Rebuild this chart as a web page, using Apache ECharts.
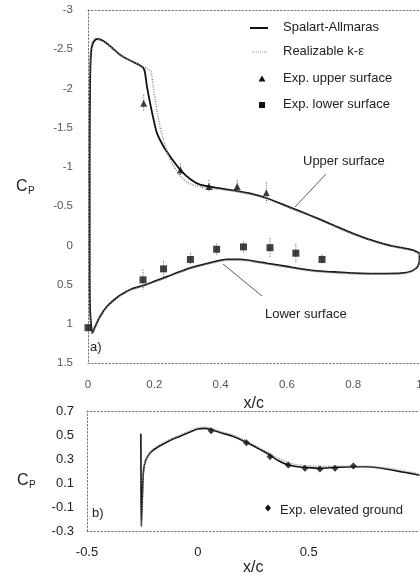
<!DOCTYPE html>
<html>
<head>
<meta charset="utf-8">
<script src="https://cdn.jsdelivr.net/npm/echarts@6/dist/echarts.min.js"></script>
<style>
html, body { margin: 0; padding: 0; background: #fff; }
#chart { width: 420px; height: 576px; }
</style>
</head>
<body>
<div id="chart"></div>
<script>
// ---- (a) airfoil surface pressure, closed loop: leading edge -> upper surface -> trailing edge -> lower surface
// Spalart-Allmaras, upper surface from stagnation point to trailing edge
const saUpperX  = [0.013, 0.006, 0.005, 0.005, 0.006, 0.009, 0.015, 0.026, 0.040, 0.057, 0.080, 0.100, 0.130, 0.155, 0.167, 0.172, 0.178, 0.188, 0.198, 0.208, 0.228, 0.250, 0.279, 0.310, 0.340, 0.380, 0.440, 0.500, 0.540, 0.600, 0.642, 0.700, 0.744, 0.800, 0.845, 0.900, 0.945, 0.980, 1.000];
const saUpperCp = [1.12, 0.80, 0.00, -1.00, -2.00, -2.45, -2.58, -2.63, -2.62, -2.575, -2.49, -2.42, -2.35, -2.30, -2.26, -2.20, -2.02, -1.80, -1.60, -1.43, -1.26, -1.12, -0.96, -0.84, -0.77, -0.74, -0.70, -0.65, -0.60, -0.50, -0.43, -0.33, -0.25, -0.15, -0.08, -0.01, 0.03, 0.06, 0.10];
// Spalart-Allmaras, lower surface from stagnation point to trailing edge
const saLowerX  = [0.013, 0.020, 0.036, 0.057, 0.080, 0.097, 0.130, 0.168, 0.200, 0.238, 0.300, 0.370, 0.420, 0.460, 0.500, 0.540, 0.600, 0.642, 0.700, 0.744, 0.800, 0.845, 0.900, 0.945, 0.975, 0.993, 1.000, 1.000];
const saLowerCp = [1.12, 1.05, 0.91, 0.78, 0.69, 0.635, 0.56, 0.51, 0.46, 0.40, 0.30, 0.22, 0.18, 0.18, 0.20, 0.23, 0.27, 0.30, 0.33, 0.34, 0.355, 0.36, 0.36, 0.355, 0.33, 0.28, 0.20, 0.10];

// Realizable k-epsilon, upper surface
const keUpperX  = [0.012, 0.004, 0.003, 0.003, 0.004, 0.007, 0.013, 0.022, 0.036, 0.055, 0.080, 0.100, 0.130, 0.160, 0.180, 0.190, 0.196, 0.203, 0.208, 0.218, 0.228, 0.245, 0.260, 0.279, 0.300, 0.340, 0.380, 0.440, 0.500, 0.540, 0.600, 0.642, 0.700, 0.744, 0.800, 0.845, 0.900, 0.945, 0.980, 1.000];
const keUpperCp = [1.13, 0.80, 0.00, -1.00, -2.00, -2.47, -2.60, -2.64, -2.62, -2.57, -2.49, -2.42, -2.35, -2.29, -2.25, -2.22, -2.05, -1.85, -1.72, -1.50, -1.34, -1.12, -1.00, -0.88, -0.80, -0.74, -0.72, -0.69, -0.64, -0.59, -0.49, -0.42, -0.32, -0.24, -0.14, -0.07, 0.00, 0.04, 0.07, 0.11];
// Realizable k-epsilon, lower surface
const keLowerX  = [0.012, 0.020, 0.036, 0.057, 0.080, 0.097, 0.130, 0.168, 0.200, 0.238, 0.300, 0.370, 0.420, 0.460, 0.500, 0.540, 0.600, 0.642, 0.700, 0.744, 0.800, 0.845, 0.900, 0.945, 0.975, 0.993, 1.000, 1.000];
const keLowerCp = [1.13, 1.06, 0.92, 0.79, 0.70, 0.645, 0.57, 0.52, 0.47, 0.41, 0.31, 0.23, 0.19, 0.19, 0.21, 0.24, 0.28, 0.31, 0.34, 0.35, 0.365, 0.37, 0.37, 0.365, 0.34, 0.29, 0.21, 0.11];

// Experiments, airfoil (value and half-width of the scatter bar)
const expUpperX   = [0.168, 0.279, 0.365, 0.450, 0.538];
const expUpperCp  = [-1.81, -0.96, -0.75, -0.75, -0.67];
const expUpperErr = [0.11, 0.08, 0.08, 0.08, 0.13];
const expLowerX   = [0.000, 0.166, 0.228, 0.309, 0.388, 0.469, 0.549, 0.627, 0.706];
const expLowerCp  = [1.05, 0.44, 0.30, 0.18, 0.05, 0.02, 0.03, 0.10, 0.18];
const expLowerErr = [0.05, 0.13, 0.10, 0.08, 0.07, 0.07, 0.12, 0.12, 0.06];

// ---- (b) elevated ground plate
const gSaX  = [-0.257, -0.256, -0.255, -0.250, -0.246, -0.240, -0.230, -0.210, -0.180, -0.130, -0.080, -0.030, 0.000, 0.030, 0.060, 0.100, 0.158, 0.219, 0.260, 0.310, 0.360, 0.408, 0.450, 0.483, 0.551, 0.619, 0.702, 0.760, 0.823, 0.870, 0.914, 0.960, 1.000];
const gSaCp = [0.51, 0.00, -0.26, 0.00, 0.18, 0.26, 0.31, 0.36, 0.40, 0.45, 0.49, 0.53, 0.55, 0.555, 0.545, 0.52, 0.49, 0.44, 0.40, 0.35, 0.29, 0.25, 0.235, 0.23, 0.222, 0.23, 0.235, 0.235, 0.225, 0.21, 0.195, 0.18, 0.165];
const gKeX  = [-0.253, -0.249, -0.245, -0.238, -0.228, -0.210, -0.180, -0.130, -0.080, -0.030, 0.000, 0.030, 0.060, 0.100, 0.158, 0.219, 0.260, 0.310, 0.360, 0.408, 0.450, 0.483, 0.551, 0.619, 0.702, 0.760, 0.823, 0.870, 0.914, 0.960, 1.000];
const gKeCp = [-0.26, 0.00, 0.20, 0.28, 0.32, 0.37, 0.41, 0.46, 0.50, 0.54, 0.56, 0.565, 0.555, 0.53, 0.50, 0.45, 0.41, 0.36, 0.31, 0.27, 0.25, 0.245, 0.24, 0.24, 0.24, 0.24, 0.23, 0.22, 0.205, 0.19, 0.175];
const gExpX   = [0.060, 0.219, 0.326, 0.408, 0.483, 0.551, 0.619, 0.702];
const gExpCp  = [0.536, 0.436, 0.320, 0.250, 0.222, 0.217, 0.222, 0.242];
const gExpErr = [0.02, 0.025, 0.03, 0.025, 0.02, 0.02, 0.02, 0.025];

// Tick labels
const topXTicks = [0, 0.2, 0.4, 0.6, 0.8, 1];
const topYTicks = [-3, -2.5, -2, -1.5, -1, -0.5, 0, 0.5, 1, 1.5];
const botXTicks = [-0.5, 0, 0.5];
const botYTicks = [-0.3, -0.1, 0.1, 0.3, 0.5, 0.7];

const FONT = "'Liberation Sans', Arial, sans-serif";
const zip = (xs, ys) => xs.map((x, i) => [x, ys[i]]);
const loop = (ux, uy, lx, ly) => zip(ux, uy).reverse().concat(zip(lx, ly).slice(1));
const bars = (xs, ys, es) => xs.map((x, i) => [x, ys[i] - es[i], ys[i] + es[i]]);

function errorBar(params, api) {
  const a = api.coord([api.value(0), api.value(1)]);
  const b = api.coord([api.value(0), api.value(2)]);
  return {
    type: 'line',
    shape: { x1: a[0], y1: a[1], x2: b[0], y2: b[1] },
    style: { stroke: '#555', lineWidth: 1, lineDash: [1, 1.5] }
  };
}

const frameLine = { show: true, onZero: false, lineStyle: { color: '#777', width: 1, type: [1.5, 2] } };

const chart = echarts.init(document.getElementById('chart'), null, { renderer: 'canvas' });

chart.setOption({
  animation: false,
  backgroundColor: '#fff',
  textStyle: { fontFamily: FONT },
  grid: [
    { left: 88, top: 10, width: 331.5, height: 353, containLabel: false, outerBoundsMode: 'none' },
    { left: 87, top: 411, width: 332.5, height: 120, containLabel: false, outerBoundsMode: 'none' }
  ],
  xAxis: [
    {
      gridIndex: 0, type: 'value', min: 0, max: 1, interval: 0.2,
      axisLine: frameLine, axisTick: { show: false }, splitLine: { show: false },
      axisLabel: { color: '#555', fontSize: 11.5, margin: 16, fontFamily: FONT, customValues: topXTicks },
      name: 'x/c', nameLocation: 'middle', nameGap: 25,
      nameTextStyle: { color: '#222', fontSize: 16, fontFamily: FONT }
    },
    {
      gridIndex: 0, type: 'value', min: 0, max: 1, position: 'top',
      axisLine: frameLine, axisTick: { show: false }, axisLabel: { show: false }, splitLine: { show: false }
    },
    {
      gridIndex: 1, type: 'value', min: -0.5, max: 1, interval: 0.5,
      axisLine: frameLine, axisTick: { show: false }, splitLine: { show: false },
      axisLabel: { color: '#222', fontSize: 13, margin: 15, fontFamily: FONT, customValues: botXTicks },
      name: 'x/c', nameLocation: 'middle', nameGap: 23,
      nameTextStyle: { color: '#222', fontSize: 16, fontFamily: FONT }
    },
    {
      gridIndex: 1, type: 'value', min: -0.5, max: 1, position: 'top',
      axisLine: frameLine, axisTick: { show: false }, axisLabel: { show: false }, splitLine: { show: false }
    }
  ],
  yAxis: [
    {
      gridIndex: 0, type: 'value', inverse: true, min: -3, max: 1.5, interval: 0.5,
      axisLine: frameLine, axisTick: { show: false }, splitLine: { show: false },
      axisLabel: { color: '#555', fontSize: 11.5, margin: 15, fontFamily: FONT, customValues: topYTicks }
    },
    {
      gridIndex: 1, type: 'value', min: -0.3, max: 0.7,
      axisLine: frameLine, axisTick: { show: false }, splitLine: { show: false },
      axisLabel: { color: '#222', fontSize: 13, margin: 13, fontFamily: FONT, customValues: botYTicks }
    }
  ],
  series: [
    {
      name: 'Spalart-Allmaras', type: 'line', xAxisIndex: 0, yAxisIndex: 0,
      data: loop(saUpperX, saUpperCp, saLowerX, saLowerCp),
      symbol: 'none', smooth: 0.2, z: 3,
      lineStyle: { color: '#111', width: 1.8 }
    },
    {
      name: 'Realizable k-ε', type: 'line', xAxisIndex: 0, yAxisIndex: 0,
      data: loop(keUpperX, keUpperCp, keLowerX, keLowerCp),
      symbol: 'none', smooth: 0.2, z: 4,
      lineStyle: { color: '#8a8a8a', width: 1.5, type: [1, 1.5] }
    },
    {
      name: 'upper bars', type: 'custom', xAxisIndex: 0, yAxisIndex: 0,
      renderItem: errorBar, data: bars(expUpperX, expUpperCp, expUpperErr),
      encode: { x: 0, y: [1, 2] }, z: 5
    },
    {
      name: 'lower bars', type: 'custom', xAxisIndex: 0, yAxisIndex: 0,
      renderItem: errorBar, data: bars(expLowerX, expLowerCp, expLowerErr),
      encode: { x: 0, y: [1, 2] }, z: 5
    },
    {
      name: 'Exp. upper surface', type: 'scatter', xAxisIndex: 0, yAxisIndex: 0,
      data: zip(expUpperX, expUpperCp), symbol: 'triangle', symbolSize: 7, z: 6,
      itemStyle: { color: '#111' }
    },
    {
      name: 'Exp. lower surface', type: 'scatter', xAxisIndex: 0, yAxisIndex: 0,
      data: zip(expLowerX, expLowerCp), symbol: 'rect', symbolSize: 7, z: 6,
      itemStyle: { color: '#111' }
    },
    {
      name: 'ground SA', type: 'line', xAxisIndex: 2, yAxisIndex: 1,
      data: zip(gSaX, gSaCp), symbol: 'none', smooth: 0.2, z: 3,
      lineStyle: { color: '#111', width: 1.6 }
    },
    {
      name: 'ground k-e', type: 'line', xAxisIndex: 2, yAxisIndex: 1,
      data: zip(gKeX, gKeCp), symbol: 'none', smooth: 0.2, z: 4,
      lineStyle: { color: '#8a8a8a', width: 1.5, type: [1, 1.5] }
    },
    {
      name: 'ground bars', type: 'custom', xAxisIndex: 2, yAxisIndex: 1,
      renderItem: errorBar, data: bars(gExpX, gExpCp, gExpErr),
      encode: { x: 0, y: [1, 2] }, z: 5
    },
    {
      name: 'Exp. elevated ground', type: 'scatter', xAxisIndex: 2, yAxisIndex: 1,
      data: zip(gExpX, gExpCp), symbol: 'diamond', symbolSize: 7, z: 6,
      itemStyle: { color: '#111' }
    }
  ],
  graphic: [
    // Cp axis titles
    { type: 'text', left: 16, top: 179, style: { text: 'C', font: '16px ' + FONT, fill: '#222' } },
    { type: 'text', left: 28, top: 186, style: { text: 'P', font: '10px ' + FONT, fill: '#222' } },
    { type: 'text', left: 17, top: 473, style: { text: 'C', font: '16px ' + FONT, fill: '#222' } },
    { type: 'text', left: 29, top: 480, style: { text: 'P', font: '10px ' + FONT, fill: '#222' } },
    // panel tags
    { type: 'text', left: 90, top: 341, style: { text: 'a)', font: '13px ' + FONT, fill: '#222' } },
    { type: 'text', left: 92, top: 507, style: { text: 'b)', font: '13px ' + FONT, fill: '#222' } },
    // legend, panel (a)
    { type: 'line', shape: { x1: 250, y1: 28, x2: 268, y2: 28 }, style: { stroke: '#111', lineWidth: 2 } },
    { type: 'text', left: 283, top: 21, style: { text: 'Spalart-Allmaras', font: '13px ' + FONT, fill: '#222' } },
    { type: 'line', shape: { x1: 252, y1: 52, x2: 268, y2: 52 }, style: { stroke: '#999', lineWidth: 1, lineDash: [1, 1] } },
    { type: 'text', left: 283, top: 45, style: { text: 'Realizable k-ε', font: '13px ' + FONT, fill: '#222' } },
    { type: 'polygon', shape: { points: [[262, 75.5], [265.5, 81.5], [258.5, 81.5]] }, style: { fill: '#111' } },
    { type: 'text', left: 283, top: 72, style: { text: 'Exp. upper surface', font: '13px ' + FONT, fill: '#222' } },
    { type: 'rect', shape: { x: 259, y: 102, width: 6, height: 6 }, style: { fill: '#111' } },
    { type: 'text', left: 283, top: 98, style: { text: 'Exp. lower surface', font: '13px ' + FONT, fill: '#222' } },
    // surface annotations
    { type: 'text', left: 303, top: 155, style: { text: 'Upper surface', font: '13px ' + FONT, fill: '#222' } },
    { type: 'line', shape: { x1: 326, y1: 174, x2: 295, y2: 207 }, style: { stroke: '#333', lineWidth: 0.8 } },
    { type: 'text', left: 265, top: 308, style: { text: 'Lower surface', font: '13px ' + FONT, fill: '#222' } },
    { type: 'line', shape: { x1: 223, y1: 264, x2: 262, y2: 296 }, style: { stroke: '#333', lineWidth: 0.8 } },
    // legend, panel (b)
    { type: 'polygon', shape: { points: [[268, 504.5], [271, 508], [268, 511.5], [265, 508]] }, style: { fill: '#111' } },
    { type: 'text', left: 280, top: 504, style: { text: 'Exp. elevated ground', font: '13px ' + FONT, fill: '#222' } }
  ]
});
</script>
</body>
</html>
